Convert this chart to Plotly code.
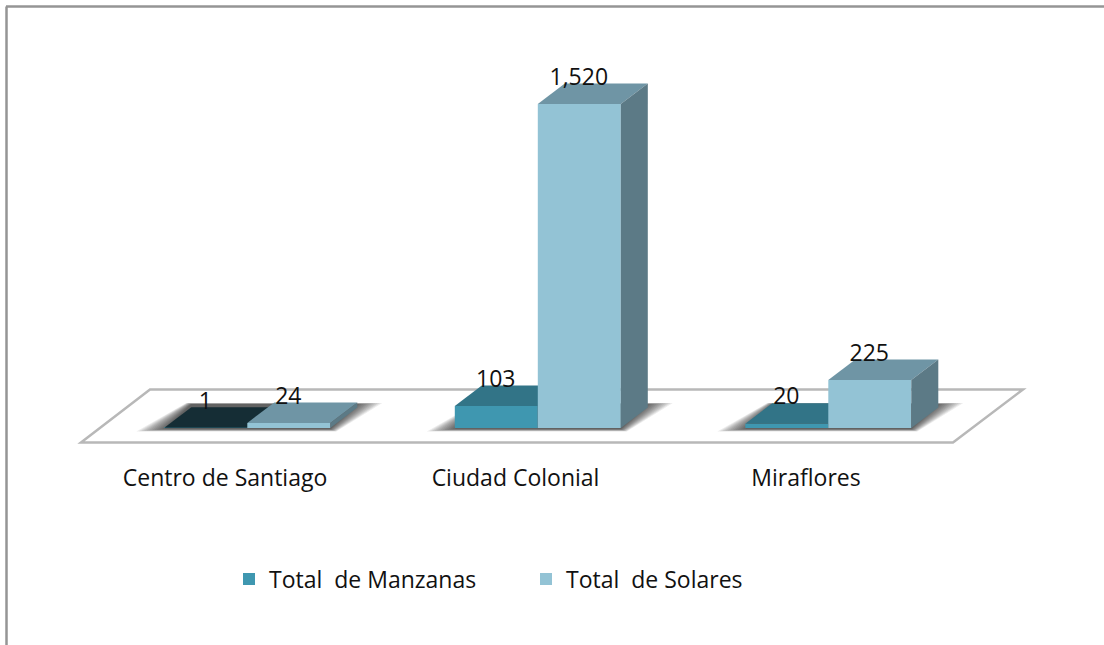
import plotly.graph_objects as go

categories = ["Centro de Santiago", "Ciudad Colonial", "Miraflores"]
manzanas = [1, 103, 20]
solares = [24, 1520, 225]
series_names = ["Total\u00a0 de Manzanas", "Total\u00a0 de Solares"]

W, H = 1104, 645
FONT = "Open Sans"
TEXT = "#111111"
FRONT = ["#3f97b0", "#93c3d5"]
TOP = [["#152d35", "#327487", "#327487"], ["#6f95a5", "#6f95a5", "#6f95a5"]]
SIDE = ["#2a6070", "#5c7a86"]

# scale: pixels per category / per unit
PX_CAT = 290.5
PX_UNIT = 0.2132
X0_PX = 225      # pixel of category 0 label
Y0_PX = 428      # pixel of value 0
BAR = 83 / PX_CAT
OFF = [-60.7 / PX_CAT, 22.3 / PX_CAT]
DX = 27 / PX_CAT
DY = 20.5 / PX_UNIT


def xp(px):
    return (px - X0_PX) / PX_CAT


def yp(py):
    return (Y0_PX - py) / PX_UNIT


x_range = [xp(0), xp(W)]
y_range = [yp(H), yp(0)]
idx = list(range(len(categories)))


def path(points):
    return "M" + "L".join(f"{a},{b}" for a, b in points) + "Z"


FRAME = dict(color="#959595", width=2.5)
shapes = [
    # floor
    dict(type="path", layer="below", xref="x", yref="y",
         path=path([(xp(81), yp(442.5)), (xp(150), yp(389.5)), (xp(1023), yp(389.5)), (xp(953), yp(442.5))]),
         fillcolor="white", line=dict(color="#b8b8b8", width=2.5)),
    # outer frame: top and left edges only
    dict(type="line", layer="below", xref="paper", yref="paper",
         x0=6 / W, x1=1, y0=1 - 6.5 / H, y1=1 - 6.5 / H, line=FRAME),
    dict(type="line", layer="below", xref="paper", yref="paper",
         x0=6.5 / W, x1=6.5 / W, y0=0, y1=1 - 6.5 / H, line=FRAME),
]

# floor shadows, one soft stack per group
LAYERS = 12
for i in idx:
    gl = X0_PX + i * PX_CAT - 60.7
    gr = gl + 166
    for k in range(LAYERS):
        t = k / (LAYERS - 1)
        pts = [
            (gl - 28 * (1 - t), 431.5 - 2.5 * t),
            (gl + 22 + 5 * t, 403 + t),
            (gr + 52 - 25 * t, 403 + t),
            (gr + 6 - 6 * t, 431.5 - 2.5 * t),
        ]
        shapes.append(dict(type="path", layer="below", xref="x", yref="y",
                           path=path([(xp(a), yp(b)) for a, b in pts]),
                           fillcolor="rgba(0,0,0,0.075)", line=dict(width=0)))

fig = go.Figure()


def face(xs, ys, color, xa, ya):
    fig.add_trace(go.Scatter(x=xs, y=ys, mode="lines", fill="toself", fillcolor=color,
                             line=dict(width=0), hoverinfo="skip", showlegend=False,
                             xaxis=xa, yaxis=ya))


for s, (vals, xa, ya) in enumerate([(manzanas, "x", "y"), (solares, "x2", "y2")]):
    fig.add_trace(go.Bar(x=idx, y=vals, width=BAR, offset=OFF[s], name=series_names[s],
                         marker=dict(color=FRONT[s], line=dict(width=0)),
                         xaxis=xa, yaxis=ya, hoverinfo="skip"))
    for i, v in zip(idx, vals):
        l = i + OFF[s]
        r = l + BAR
        face([l, l + DX, r + DX, r, l], [v, v + DY, v + DY, v, v], TOP[s][i], xa, ya)
        face([r, r + DX, r + DX, r, r], [0, DY, v + DY, v, 0], SIDE[s], xa, ya)

# data labels
lab_x, lab_y, lab_t = [], [], []
for s, vals in enumerate([manzanas, solares]):
    for i, v in zip(idx, vals):
        lab_x.append(i + OFF[s] + BAR / 2 - 0.5 / PX_CAT)
        lab_y.append(v + 25 / PX_UNIT)
        lab_t.append(f"{v:,}")
fig.add_trace(go.Scatter(x=lab_x, y=lab_y, text=lab_t, mode="text", textposition="middle center",
                         textfont=dict(family=FONT, size=23, color=TEXT), hoverinfo="skip",
                         showlegend=False, cliponaxis=False, xaxis="x2", yaxis="y2"))

fig.update_layout(
    width=W, height=H, margin=dict(l=0, r=0, t=0, b=0), autosize=False,
    paper_bgcolor="white", plot_bgcolor="rgba(0,0,0,0)",
    barmode="overlay", shapes=shapes,
    xaxis=dict(range=x_range, tickmode="array", tickvals=idx, ticktext=categories,
               showgrid=False, zeroline=False, showline=False, ticks="",
               anchor="free", position=1 - 462 / H,
               tickfont=dict(family=FONT, size=23, color=TEXT)),
    yaxis=dict(range=y_range, visible=False, showgrid=False, zeroline=False),
    xaxis2=dict(range=x_range, overlaying="x", visible=False, showgrid=False, zeroline=False),
    yaxis2=dict(range=y_range, overlaying="y", visible=False, showgrid=False, zeroline=False),
    legend=dict(orientation="h", x=229 / W, xanchor="left", y=1 - 579 / H, yanchor="middle",
                font=dict(family=FONT, size=23, color=TEXT), bgcolor="rgba(0,0,0,0)",
                itemwidth=30, entrywidth=252, entrywidthmode="pixels", traceorder="normal"),
    showlegend=True,
)

fig.write_html("out.html", config=dict(displayModeBar=False),
               post_script="document.body.style.margin='0';")
